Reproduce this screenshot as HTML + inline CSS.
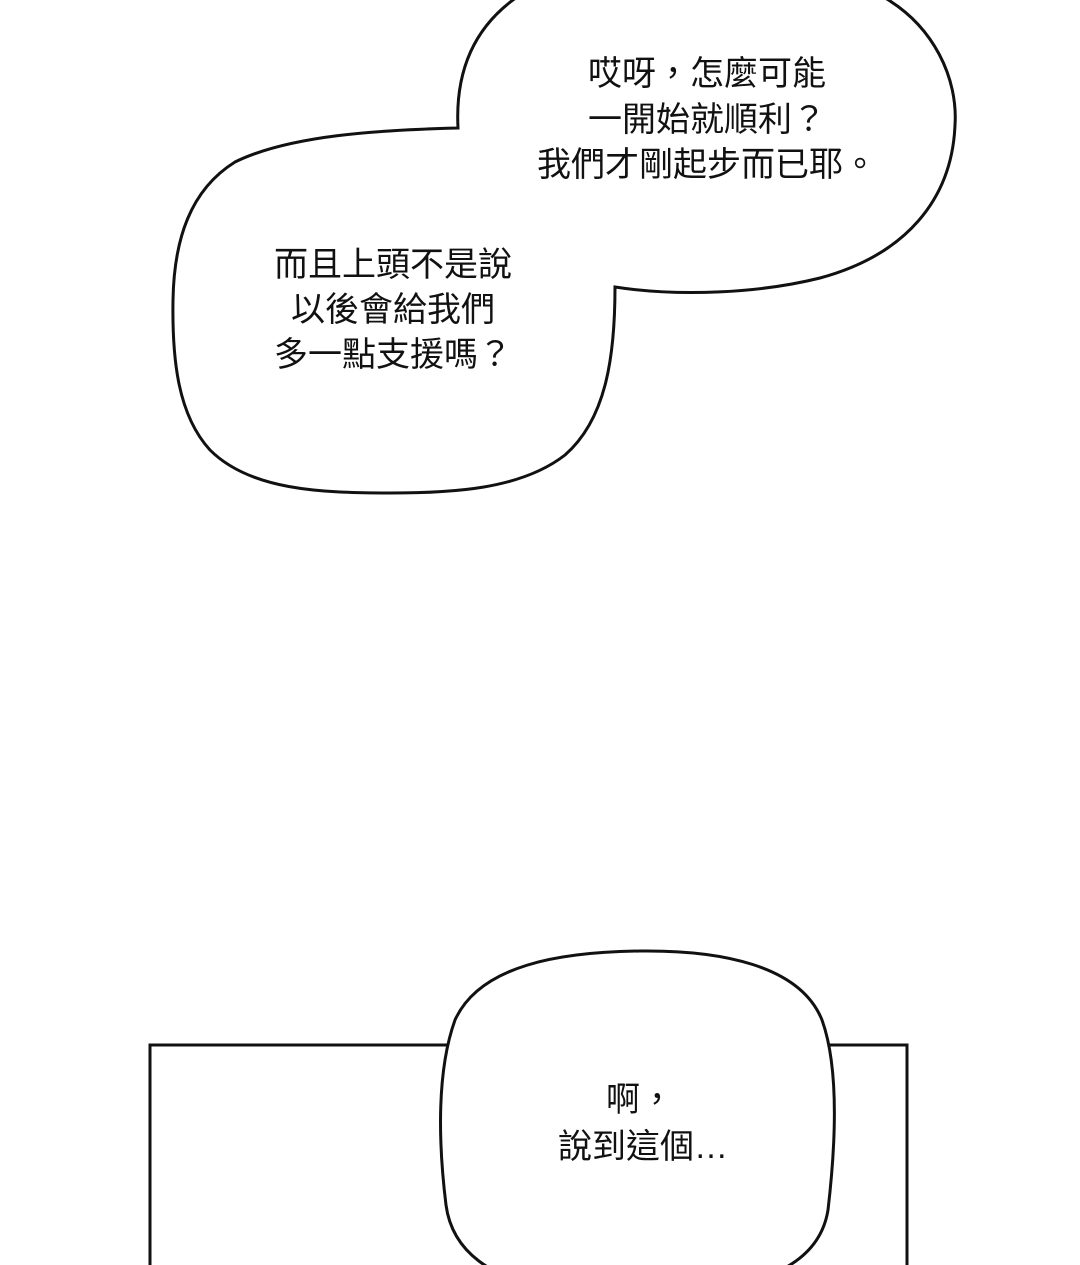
<!DOCTYPE html>
<html><head><meta charset="utf-8">
<style>
html,body{margin:0;padding:0;background:#fff;}
svg{display:block;}
text{font-family:"Liberation Sans","Noto Sans CJK TC",sans-serif;font-size:34px;fill:#111;text-anchor:middle;}
</style></head>
<body>
<svg width="1080" height="1265" viewBox="0 0 1080 1265" xmlns="http://www.w3.org/2000/svg">
<path d="M458,128 C455,70 475,25 520,-5 L880,-5 C935,25 958,80 955,125 C952,200 905,255 820,278 C760,293 680,297 615,287 C615,360 605,420 565,455 C520,490 450,493 390,493 C320,493 250,490 210,450 C178,415 172,360 173,300 C174,240 190,190 235,162 C290,135 380,130 458,128 Z" fill="#fff" stroke="#111" stroke-width="3"/>
<text x="707" y="85">哎呀，怎麼可能</text>
<text x="707" y="131">一開始就順利？</text>
<text x="707" y="176">我們才剛起步而已耶。</text>
<text x="393" y="276">而且上頭不是說</text>
<text x="393" y="321">以後會給我們</text>
<text x="393" y="366">多一點支援嗎？</text>
<path d="M150,1266 L150,1045 L460,1045 M820,1045 L907,1045 L907,1266" fill="none" stroke="#111" stroke-width="3"/>
<path d="M455,1020 C480,965 560,952 640,951 C720,950 800,965 822,1020 C840,1070 835,1150 828,1210 C820,1260 770,1285 700,1288 L560,1288 C490,1282 452,1250 446,1205 C438,1140 437,1070 455,1020 Z" fill="#fff" stroke="#111" stroke-width="3"/>
<text x="640" y="1111">啊，</text>
<text x="643" y="1158">說到這個…</text>
</svg>
</body></html>
